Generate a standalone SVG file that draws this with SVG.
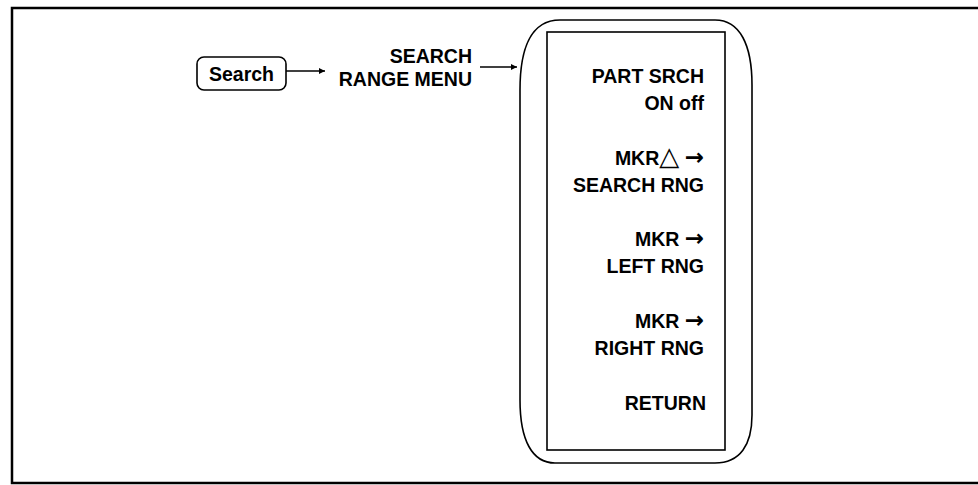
<svg xmlns="http://www.w3.org/2000/svg" width="978" height="485" viewBox="0 0 978 485">
<style>
.t{font-family:"Liberation Sans","DejaVu Sans",sans-serif;font-weight:bold;font-size:19.5px;fill:#000}
.r{text-anchor:end}
.sym{font-family:"DejaVu Sans",sans-serif;font-weight:bold;font-size:23px}
.tri{font-family:"DejaVu Sans",sans-serif;font-weight:bold;font-size:26px}
.ln{fill:none;stroke:#000;stroke-width:1.6}
</style>
<defs>
<marker id="ah" viewBox="0 0 10 10" refX="10" refY="5" markerWidth="9" markerHeight="6" markerUnits="userSpaceOnUse" orient="auto">
<path d="M0,0 L10,5 L0,10 Z" fill="#000"/>
</marker>
</defs>
<rect width="978" height="485" fill="#fff"/>
<g id="frame">
<path d="M978,8 L12,8 L12,483 L978,483" fill="none" stroke="#000" stroke-width="2.5"/>
</g>
<g id="search-key">
<rect x="197" y="57" width="89" height="33" rx="7" class="ln"/>
<text class="t" x="241.5" y="80.5" text-anchor="middle">Search</text>
</g>
<g id="menu-title">
<text class="t r" x="472" y="63">SEARCH</text>
<text class="t r" x="472" y="86">RANGE MENU</text>
</g>
<g id="connectors">
<line x1="286" y1="71" x2="325" y2="71" stroke="#000" stroke-width="1.6" marker-end="url(#ah)"/>
<line x1="480" y1="67" x2="517" y2="67" stroke="#000" stroke-width="1.6" marker-end="url(#ah)"/>
</g>
<g id="softkey-panel">
<path d="M560,20 L715,20 C740,20 752,45 752,85 L752,415 C752,445 740,463 715,463 L555,463 C532,463 520,440 520,400 L520,90 C520,50 530,20 560,20 Z" class="ln"/>
<rect x="547" y="32" width="178" height="418" class="ln"/>
</g>
<g id="key-part-srch">
<text class="t r" x="704" y="83">PART SRCH</text>
<text class="t r" x="704" y="110">ON off</text>
</g>
<g id="key-mkr-delta">
<text class="t r" x="704" y="165">MKR<tspan class="tri">△</tspan> <tspan class="sym">→</tspan></text>
<text class="t r" x="704" y="192">SEARCH RNG</text>
</g>
<g id="key-mkr-left">
<text class="t r" x="704" y="246">MKR <tspan class="sym">→</tspan></text>
<text class="t r" x="704" y="273">LEFT RNG</text>
</g>
<g id="key-mkr-right">
<text class="t r" x="704" y="328">MKR <tspan class="sym">→</tspan></text>
<text class="t r" x="704" y="355">RIGHT RNG</text>
</g>
<g id="key-return">
<text class="t r" x="706" y="410">RETURN</text>
</g>
</svg>
